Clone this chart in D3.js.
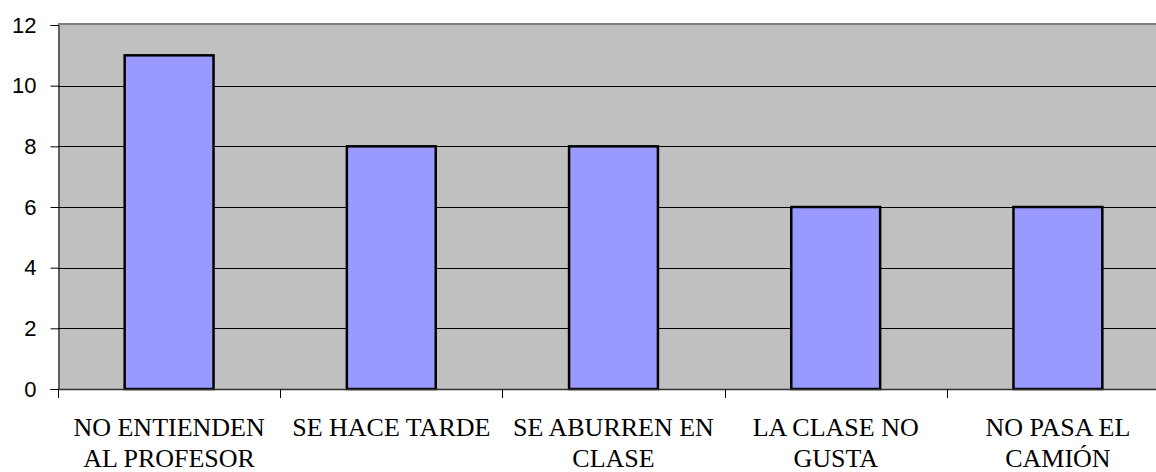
<!DOCTYPE html>
<html>
<head>
<meta charset="utf-8">
<script src="https://cdn.jsdelivr.net/npm/d3@7"></script>
<style>
  html, body { margin: 0; padding: 0; background: #ffffff; }
  svg { display: block; }
  svg text.xlab { font-family: "Liberation Serif"; font-size: 26px; }
  svg text.ylab { font-family: "Liberation Sans"; font-size: 22px; }
</style>
</head>
<body>
<svg id="chart" width="1156" height="472"></svg>
<script>
const categories = [
  ["NO ENTIENDEN", "AL PROFESOR"],
  ["SE HACE TARDE"],
  ["SE ABURREN EN", "CLASE"],
  ["LA CLASE NO", "GUSTA"],
  ["NO PASA EL", "CAMIÓN"]
];
const values = [11, 8, 8, 6, 6];
const yTicks = [0, 2, 4, 6, 8, 10, 12];

(function () {
const svg = d3.select("#chart");
const pLeft = 58, pRight = 1169, pTop = 25, pBottom = 389;

const keys = categories.map(c => c.join(" "));
const x = d3.scaleBand().domain(keys).range([pLeft, pRight]).padding(0);
const y = d3.scaleLinear().domain([0, 12]).range([pBottom, pTop]);

// plot background
svg.append("rect")
  .attr("x", pLeft).attr("y", pTop)
  .attr("width", pRight - pLeft).attr("height", pBottom - pTop)
  .attr("fill", "#c0c0c0");

// top border
svg.append("line")
  .attr("x1", pLeft).attr("x2", pRight)
  .attr("y1", pTop - 1).attr("y2", pTop - 1)
  .attr("stroke", "#808080").attr("stroke-width", 2);

// gridlines
svg.append("g").selectAll("line")
  .data(yTicks.filter(t => t > 0 && t < 12))
  .join("line")
  .attr("x1", pLeft).attr("x2", pRight)
  .attr("y1", d => Math.round(y(d)) + 0.5).attr("y2", d => Math.round(y(d)) + 0.5)
  .attr("stroke", "#000").attr("stroke-width", 1);

// bars
const barFrac = 0.4;
svg.append("g").selectAll("rect")
  .data(values)
  .join("rect")
  .attr("x", (d, i) => x(keys[i]) + x.bandwidth() * (1 - barFrac) / 2)
  .attr("width", x.bandwidth() * barFrac)
  .attr("y", d => y(d))
  .attr("height", d => y(0) - y(d))
  .attr("fill", "#9999ff")
  .attr("stroke", "#000")
  .attr("stroke-width", 2.5);

// y axis
const yAxis = d3.axisLeft(y).tickValues(yTicks).tickSize(8).tickPadding(14);
const gy = svg.append("g").attr("transform", `translate(${pLeft + 0.5},0)`).call(yAxis);
gy.attr("font-family", null).attr("font-size", null);
gy.select(".domain").attr("stroke", "#000");
gy.selectAll(".tick line").attr("stroke", "#000");
gy.selectAll(".tick text")
  .attr("class", "ylab")
  .attr("fill", "#000");

// x axis with ticks at band boundaries
svg.append("line")
  .attr("x1", pLeft).attr("x2", pRight)
  .attr("y1", pBottom + 0.5).attr("y2", pBottom + 0.5)
  .attr("stroke", "#303030").attr("stroke-width", 1.5);
svg.append("g").selectAll("line")
  .data(keys)
  .join("line")
  .attr("x1", d => Math.round(x(d)) + 0.5).attr("x2", d => Math.round(x(d)) + 0.5)
  .attr("y1", pBottom).attr("y2", pBottom + 9)
  .attr("stroke", "#000");

// category labels
const lab = svg.append("g").selectAll("text")
  .data(categories)
  .join("text")
  .attr("class", "xlab")
  .attr("fill", "#000")
  .attr("text-anchor", "middle");
lab.each(function(d, i) {
  const cx = x(keys[i]) + x.bandwidth() / 2;
  d3.select(this).selectAll("tspan")
    .data(d)
    .join("tspan")
    .attr("x", cx)
    .attr("y", (t, j) => 436 + j * 31)
    .text(t => t);
});
})();
</script>
</body>
</html>
